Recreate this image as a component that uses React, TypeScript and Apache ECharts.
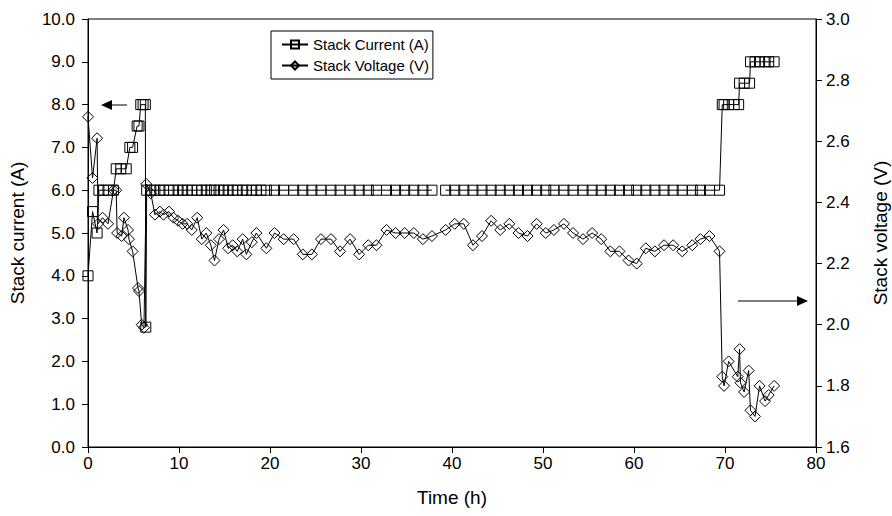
import React, { useEffect, useRef } from "react";
import * as echarts from "echarts";

const curTime = [
  0, 0.5, 1.0, 1.2, 1.7, 2.2, 2.8, 3.1, 3.6, 4.2, 4.6, 4.9, 5.4, 5.6, 5.8, 6.05, 6.3, 6.35, 6.45,
  6.9, 7.35, 7.9, 8.3, 8.9, 9.4, 9.9, 10.4, 10.9, 11.4, 12.0, 12.5, 13.0, 13.5, 13.9, 14.4, 14.9,
  15.4, 15.9, 16.4, 17.0, 17.4, 18.0, 18.5, 19.0, 19.6, 20.5, 21.5, 22.6, 23.6, 24.6, 25.6, 26.7,
  27.7, 28.8, 29.8, 30.8, 31.7, 32.8, 33.8, 34.8, 35.8, 36.8, 37.8, 38.5, 39.3, 40.3, 41.3, 42.3,
  43.3, 44.3, 45.3, 46.3, 47.3, 48.3, 49.3, 50.3, 51.2, 52.3, 53.3, 54.4, 55.4, 56.4, 57.4, 58.4,
  59.4, 60.3, 61.3, 62.3, 63.3, 64.3, 65.3, 66.4, 67.3, 68.3, 69.4, 69.7, 69.9, 70.4, 71.0, 71.5,
  71.6, 72.1, 72.7, 72.8, 73.3, 73.8, 74.4, 74.8, 75.4,
];
const curA: (number | null)[] = [
  4.0, 5.5, 5.0, 6.0, 6.0, 6.0, 6.0, 6.5, 6.5, 6.5, 7.0, 7.0, 7.5, 7.5, 8.0, 8.0, 8.0, 2.8, 6.0,
  6.0, 6.0, 6.0, 6.0, 6.0, 6.0, 6.0, 6.0, 6.0, 6.0, 6.0, 6.0, 6.0, 6.0, 6.0, 6.0, 6.0,
  6.0, 6.0, 6.0, 6.0, 6.0, 6.0, 6.0, 6.0, 6.0, 6.0, 6.0, 6.0, 6.0, 6.0, 6.0, 6.0,
  6.0, 6.0, 6.0, 6.0, 6.0, 6.0, 6.0, 6.0, 6.0, 6.0, 6.0, null, 6.0, 6.0, 6.0, 6.0,
  6.0, 6.0, 6.0, 6.0, 6.0, 6.0, 6.0, 6.0, 6.0, 6.0, 6.0, 6.0, 6.0, 6.0, 6.0, 6.0,
  6.0, 6.0, 6.0, 6.0, 6.0, 6.0, 6.0, 6.0, 6.0, 6.0, 6.0, 8.0, 8.0, 8.0, 8.0, 8.0,
  8.5, 8.5, 8.5, 9.0, 9.0, 9.0, 9.0, 9.0, 9.0,
];

const voltTime = [
  0, 0.5, 1.0, 1.1, 1.6, 2.2, 2.8, 3.1, 3.2, 3.7, 3.95, 4.4, 4.5, 4.9, 5.5, 5.6, 5.9, 6.15,
  6.4, 6.9, 7.35, 7.9, 8.3, 8.9, 9.4, 9.9, 10.4, 10.9, 11.4, 12.0, 12.5, 13.0, 13.5, 13.9, 14.4,
  14.9, 15.4, 15.9, 16.4, 17.0, 17.4, 18.0, 18.5,
  19.6, 20.5, 21.5, 22.6, 23.6, 24.6, 25.6, 26.7, 27.7, 28.8, 29.8, 30.8, 31.7, 32.8, 33.8, 34.8,
  35.8, 36.8, 37.8,
  39.3, 40.3, 41.3, 42.3, 43.3, 44.3, 45.3, 46.3, 47.3, 48.3, 49.3, 50.3, 51.2, 52.3, 53.3, 54.4,
  55.4, 56.4, 57.4, 58.4, 59.4, 60.3, 61.3, 62.3, 63.3, 64.3, 65.3, 66.4, 67.3, 68.3, 69.4,
  69.7, 69.9, 70.4, 71.4, 71.6, 71.7, 72.1, 72.6, 72.8, 73.3, 73.8, 74.4, 74.8, 75.4,
];
const voltV = [
  2.68, 2.48, 2.61, 2.33, 2.35, 2.33, 2.44, 2.44, 2.30, 2.29, 2.35, 2.31, 2.28, 2.24, 2.12, 2.11, 2.00, 1.99,
  2.46, 2.43, 2.36, 2.37, 2.36, 2.37, 2.35, 2.34, 2.33, 2.33, 2.31, 2.35, 2.28, 2.30, 2.26, 2.21, 2.28,
  2.31, 2.25, 2.26, 2.24, 2.28, 2.23, 2.27, 2.30,
  2.25, 2.30, 2.28, 2.28, 2.23, 2.23, 2.28, 2.28, 2.24, 2.28, 2.23, 2.26, 2.26, 2.31, 2.30, 2.30,
  2.30, 2.28, 2.29,
  2.31, 2.33, 2.33, 2.26, 2.29, 2.34, 2.31, 2.33, 2.30, 2.29, 2.33, 2.30, 2.31, 2.33, 2.30, 2.28,
  2.30, 2.28, 2.24, 2.24, 2.21, 2.20, 2.25, 2.24, 2.26, 2.26, 2.24, 2.26, 2.28, 2.29, 2.24,
  1.83, 1.80, 1.88, 1.83, 1.92, 1.81, 1.78, 1.85, 1.72, 1.70, 1.80, 1.75, 1.77, 1.80,
];

const seriesNames = ["Stack Current (A)", "Stack Voltage (V)"];
const axisNames = { x: "Time (h)", left: "Stack current (A)", right: "Stack voltage (V)" };

const FONT = "'Liberation Sans', Arial, Helvetica, sans-serif";

export default function App() {
  const ref = useRef<HTMLDivElement>(null);
  useEffect(() => {
    if (!ref.current) return;
    const chart = echarts.init(ref.current, null, { renderer: "svg" });
    const axisCommon = {
      axisLine: { show: true, lineStyle: { color: "#000", width: 1 } },
      axisTick: { show: true, length: 6, lineStyle: { color: "#000", width: 1 } },
      splitLine: { show: false },
      nameTextStyle: { fontSize: 19, color: "#000", fontFamily: FONT },
    };
    chart.setOption({
      animation: false,
      backgroundColor: "#fff",
      textStyle: { fontFamily: FONT },
      grid: {
        left: 88,
        right: 76,
        top: 19,
        bottom: 69,
        show: true,
        borderColor: "#000",
        borderWidth: 1,
        containLabel: false,
        outerBoundsMode: "none",
      },
      legend: {
        orient: "vertical",
        left: 271,
        top: 31,
        padding: [6, 4, 6, 10],
        itemGap: 6,
        itemWidth: 26,
        itemHeight: 10,
        borderColor: "#000",
        borderWidth: 1,
        borderRadius: 0,
        backgroundColor: "#fff",
        textStyle: { fontSize: 15, color: "#000", fontFamily: FONT },
        data: seriesNames,
      },
      xAxis: {
        type: "value",
        min: 0,
        max: 80,
        interval: 10,
        name: axisNames.x,
        nameLocation: "middle",
        nameGap: 41,
        axisLabel: { fontSize: 17, color: "#000", margin: 8, fontFamily: FONT },
        ...axisCommon,
      },
      yAxis: [
        {
          type: "value",
          min: 0,
          max: 10,
          interval: 1,
          position: "left",
          name: axisNames.left,
          nameLocation: "middle",
          nameGap: 61,
          nameRotate: 90,
          axisLabel: { fontSize: 17, color: "#000", margin: 13, fontFamily: FONT, formatter: (v: number) => v.toFixed(1) },
          ...axisCommon,
        },
        {
          type: "value",
          min: 1.6,
          max: 3.0,
          interval: 0.2,
          position: "right",
          name: axisNames.right,
          nameLocation: "middle",
          nameGap: 55,
          nameRotate: 90,
          axisLabel: { fontSize: 17, color: "#000", margin: 10, fontFamily: FONT, formatter: (v: number) => v.toFixed(1) },
          ...axisCommon,
        },
      ],
      graphic: [
        { type: "line", shape: { x1: 108, y1: 105, x2: 127, y2: 105 }, style: { stroke: "#000", lineWidth: 1 } },
        { type: "polygon", shape: { points: [[101, 105], [112, 100], [112, 110]] }, style: { fill: "#000" } },
        { type: "line", shape: { x1: 738, y1: 301, x2: 800, y2: 301 }, style: { stroke: "#000", lineWidth: 1 } },
        { type: "polygon", shape: { points: [[808, 301], [797, 296], [797, 306]] }, style: { fill: "#000" } },
      ],
      series: [
        {
          name: seriesNames[0],
          type: "line",
          yAxisIndex: 0,
          data: curTime.map((t, i) => [t, curA[i] === null ? "-" : curA[i]]),
          symbol: "rect",
          symbolSize: 10,
          showAllSymbol: true,
          connectNulls: false,
          lineStyle: { color: "#000", width: 1 },
          itemStyle: { color: "rgba(0,0,0,0)", borderColor: "#000", borderWidth: 1 },
          emphasis: { disabled: true },
        },
        {
          name: seriesNames[1],
          type: "line",
          yAxisIndex: 1,
          data: voltTime.map((t, i) => [t, voltV[i]]),
          symbol: "diamond",
          symbolSize: 11,
          showAllSymbol: true,
          lineStyle: { color: "#000", width: 1 },
          itemStyle: { color: "rgba(0,0,0,0)", borderColor: "#000", borderWidth: 1 },
          emphasis: { disabled: true },
        },
      ],
    });
    return () => chart.dispose();
  }, []);
  return <div ref={ref} style={{ position: "fixed", left: 0, top: 0, width: 892, height: 516 }} />;
}
